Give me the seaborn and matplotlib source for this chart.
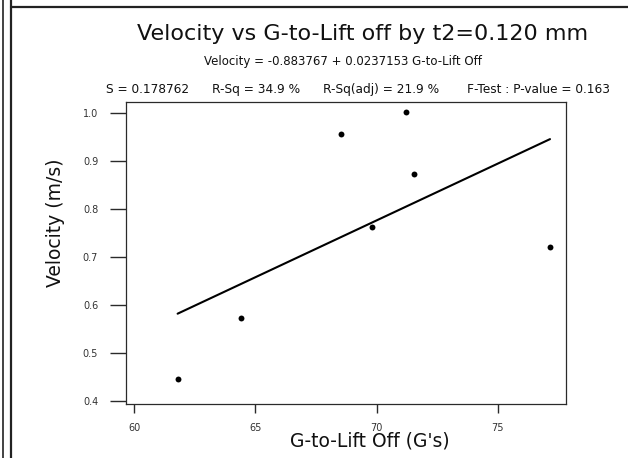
import matplotlib
matplotlib.use("Agg")
import matplotlib.pyplot as plt
from matplotlib.lines import Line2D
import numpy as np
import pandas as pd
import seaborn as sns

# Measured points: G-to-Lift Off (G's) vs Velocity (m/s)
g_to_lift_off = [61.79, 64.39, 68.53, 69.80, 71.23, 71.54, 77.16]
velocity = [0.445, 0.573, 0.957, 0.763, 1.002, 0.874, 0.721]

# Fitted regression coefficients and summary statistics
intercept = -0.883767
slope = 0.0237153
stats_labels = ["S = 0.178762", "R-Sq = 34.9 %", "R-Sq(adj) = 21.9 %",
                "F-Test : P-value = 0.163"]

x_ticks = [60, 65, 70, 75]
y_ticks = [0.4, 0.5, 0.6, 0.7, 0.8, 0.9, 1.0]

sns.set_theme(style="white")
plt.rcParams["font.family"] = ["DejaVu Sans"]

W, H = 628, 458
fig = plt.figure(figsize=(W / 100, H / 100), dpi=100)
fig.patch.set_facecolor("white")

def fx(px):
    return px / W

def fy(py):
    return (H - py) / H

ax = fig.add_axes([fx(126), fy(404), fx(566) - fx(126), fy(102.3) - fy(404)])

df = pd.DataFrame({"G": g_to_lift_off, "V": velocity})
fit_x = np.array([min(g_to_lift_off), max(g_to_lift_off)])
fit = pd.DataFrame({"G": fit_x, "V": intercept + slope * fit_x})

sns.lineplot(data=fit, x="G", y="V", ax=ax, color="black", linewidth=1.5)
sns.scatterplot(data=df, x="G", y="V", ax=ax, color="black", s=18,
                edgecolor="black", linewidth=0, zorder=3)

ax.set_xlim(59.66, 77.82)
ax.set_ylim(0.393, 1.023)
ax.set_xticks(x_ticks)
ax.set_xticklabels([str(t) for t in x_ticks])
ax.set_yticks(y_ticks)
ax.set_yticklabels([f"{t:.1f}" for t in y_ticks])

for sp in ax.spines.values():
    sp.set_visible(True)
    sp.set_color("#2a2a2a")
    sp.set_linewidth(0.9)

ax.tick_params(axis="y", direction="out", length=11.5, width=1.0,
               color="#2a2a2a", pad=8.5, labelsize=7, labelcolor="#333333",
               left=True)
ax.tick_params(axis="x", direction="out", length=6.5, width=1.0,
               color="#2a2a2a", pad=7, labelsize=7, labelcolor="#333333",
               bottom=True)

ax.set_xlabel("G-to-Lift Off (G's)", fontsize=13.5, color="#111111",
              va="baseline", ha="center")
ax.xaxis.set_label_coords(0.5545, -0.1425)
ax.set_ylabel("Velocity (m/s)", fontsize=13.5, color="#111111",
              va="center", ha="center")
ax.yaxis.set_label_coords(-0.161, 0.600)

# Title, fitted equation and fit statistics
fig.text(fx(363), fy(40), "Velocity vs G-to-Lift off by t2=0.120 mm",
         fontsize=16, ha="center", va="baseline", color="#111111")
fig.text(fx(343), fy(65), "Velocity = -0.883767 + 0.0237153 G-to-Lift Off",
         fontsize=8.5, ha="center", va="baseline", color="#111111")
for xpos, lab in zip([106, 212, 323, 467], stats_labels):
    fig.text(fx(xpos), fy(92.7), lab, fontsize=8.7, ha="left", va="baseline",
             color="#111111")

# Page frame: double rule on the left and a rule along the top
for xpx, lw in [(3.5, 1.2), (10.5, 1.6)]:
    fig.add_artist(Line2D([fx(xpx), fx(xpx)], [0, 1], color="#222222",
                          linewidth=lw))
fig.add_artist(Line2D([fx(10.5), 1], [fy(7), fy(7)], color="#222222",
                      linewidth=1.6))

fig.savefig("out.png", dpi=100, facecolor="white")
